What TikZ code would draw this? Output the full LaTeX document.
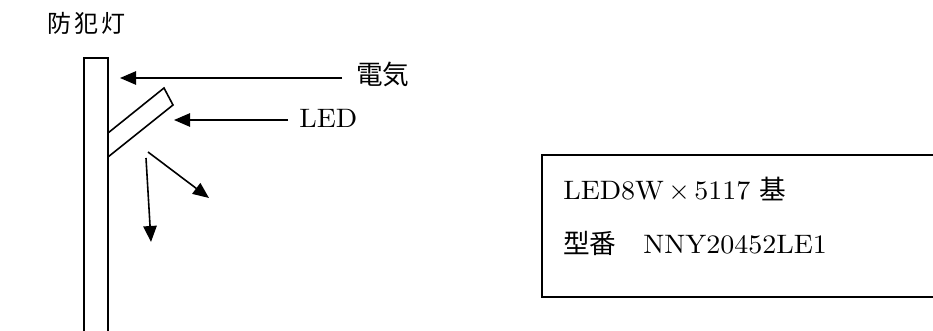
\documentclass[tikz,border=0pt]{standalone}
\usepackage{fontspec}
\usetikzlibrary{arrows.meta}
\setmainfont{lmroman10-regular.otf}[FakeStretch=1.05]
\newfontfamily\cjk{Noto Sans CJK JP}
\newfontfamily\cjktitle{Noto Sans CJK JP}[LetterSpace=12]
\begin{document}
\begin{tikzpicture}[x=0.75pt,y=-0.75pt,
  outline/.style={line width=1.2pt,black},
  pointer/.style={line width=1.2pt,-{Triangle[length=12pt,width=10pt]}},
  latin/.style={inner sep=0pt,font=\fontsize{20}{24}\selectfont},
  kanji/.style={inner sep=0pt,font=\fontsize{20}{24}\selectfont\cjk}]
\useasboundingbox (0,0) rectangle (933,331);
% title
\node[inner sep=0pt,font=\fontsize{18}{22}\selectfont\cjktitle,anchor=west] (title) at (47,23) {防犯灯};
% pole
\coordinate (poleTL) at (84,58);
\coordinate (poleTR) at (108,58);
\coordinate (poleBL) at (84,331);
\coordinate (poleBR) at (108,331);
\draw[outline] (poleBL) -- (poleTL) -- (poleTR) -- (poleBR);
% arm
\coordinate (armA) at (108,133);
\coordinate (armB) at (164,88);
\coordinate (armC) at (173,105);
\coordinate (armD) at (108,157);
\draw[outline,line join=miter] (armA) -- (armB) -- (armC) -- (armD);
% labels and pointers
\node[kanji,anchor=west] (elec) at (356,74) {電気};
\coordinate (elecS) at (342,78);
\coordinate (elecT) at (120,78);
\draw[pointer] (elecS) -- (elecT);
\node[latin,anchor=base west] (led) at (299,128) {LED};
\coordinate (ledS) at (288,120);
\coordinate (ledT) at (174,120);
\draw[pointer] (ledS) -- (ledT);
% light rays
\coordinate (rayAS) at (146,158);
\coordinate (rayAT) at (151,242);
\coordinate (rayBS) at (148,152);
\coordinate (rayBT) at (209,198);
\draw[pointer] (rayAS) -- (rayAT);
\draw[pointer] (rayBS) -- (rayBT);
% info box (right side runs off the picture)
\coordinate (boxTR) at (940,155);
\coordinate (boxTL) at (542,155);
\coordinate (boxBL) at (542,297);
\coordinate (boxBR) at (940,297);
\draw[outline] (boxTR) -- (boxTL) -- (boxBL) -- (boxBR);
\node[latin,anchor=base west] (line1) at (563,200) {LED8W\,$\times$\,5117 {\cjk 基}};
\node[latin,anchor=base west] (line2) at (563,254) {{\cjk 型番　}NNY20452LE1};
\end{tikzpicture}
\end{document}
